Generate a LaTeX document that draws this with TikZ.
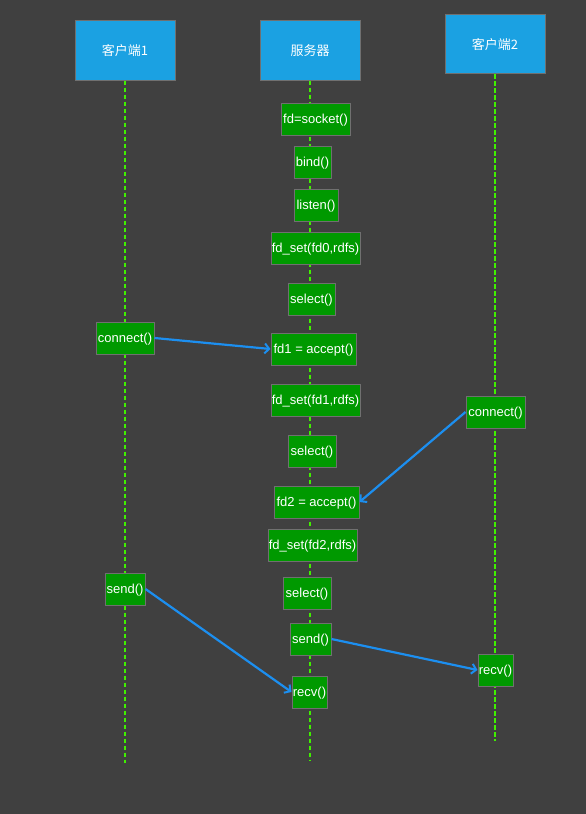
\documentclass[tikz,border=0pt]{standalone}
\usepackage{fontspec}
\setmainfont{Liberation Sans}
\newfontfamily\cjk{Noto Sans CJK SC}
\usetikzlibrary{arrows.meta}
\definecolor{bg}{HTML}{404040}
\definecolor{hdrblue}{HTML}{1BA1E2}
\definecolor{stepgreen}{HTML}{009900}
\definecolor{edgegray}{HTML}{707070}
\definecolor{lifegreen}{HTML}{40F000}
\definecolor{msgblue}{HTML}{1C8FF0}
\tikzset{
  hdr/.style={draw=edgegray, line width=1pt, fill=hdrblue, text=white,
    minimum width=100pt, minimum height=60pt, inner sep=0pt,
    text depth=0pt, font=\cjk\fontsize{13}{15}\selectfont},
  stepbox/.style={draw=edgegray, line width=1pt, fill=stepgreen, text=white,
    minimum height=32pt, inner sep=0pt, text depth=0pt,
    font=\fontsize{13}{15}\selectfont},
  lifeline/.style={draw=lifegreen, line width=2.6pt, dash pattern=on 4.5pt off 2.5pt},
  msg/.style={draw=msgblue, line width=2.2pt,
    -{Straight Barb[length=4.5pt,width=10pt,line width=2pt]}}
}
\begin{document}
\begin{tikzpicture}[x=1pt,y=-1pt]
\useasboundingbox[fill=bg] (0,0) rectangle (586,814);

% participants
\node[hdr] (c1) at (125,50) {客户端1};
\node[hdr] (srv) at (310,50) {服务器};
\node[hdr, minimum height=59pt] (c2) at (495,44) {客户端2};

% lifelines
\coordinate (c1end) at (125,763);
\coordinate (srvend) at (310,760);
\coordinate (c2end) at (495,741);
\draw[lifeline] (c1.south) -- (c1end);
\draw[lifeline] (srv.south) -- (srvend);
\draw[lifeline] (c2.south) -- (c2end);

% server calls
\node[stepbox, minimum width=69pt] (socket) at (315.5,119) {fd=socket()};
\node[stepbox, minimum width=37pt] (bind) at (312.5,162) {bind()};
\node[stepbox, minimum width=44pt] (listen) at (316,205) {listen()};
\node[stepbox, minimum width=89pt] (fdset0) at (315.5,248) {fd\_set(fd0,rdfs)};
\node[stepbox, minimum width=47pt] (sel1) at (311.5,299) {select()};
\node[stepbox, minimum width=85pt] (acc1) at (313.5,349) {fd1 = accept()};
\node[stepbox, minimum width=89pt] (fdset1) at (315.5,400) {fd\_set(fd1,rdfs)};
\node[stepbox, minimum width=48pt] (sel2) at (312,451) {select()};
\node[stepbox, minimum width=85pt] (acc2) at (316.5,502) {fd2 = accept()};
\node[stepbox, minimum width=89pt] (fdset2) at (312.5,545) {fd\_set(fd2,rdfs)};
\node[stepbox, minimum width=48pt] (sel3) at (307,593) {select()};
\node[stepbox, minimum width=41pt] (sendS) at (310.5,639) {send()};
\node[stepbox, minimum width=35pt] (recvS) at (309.5,692) {recv()};

% client 1 calls
\node[stepbox, minimum width=58pt] (conn1) at (125,338) {connect()};
\node[stepbox, minimum width=40pt] (send1) at (125,589) {send()};

% client 2 calls
\node[stepbox, minimum width=59pt] (conn2) at (495.5,412) {connect()};
\node[stepbox, minimum width=35pt] (recv2) at (495.5,670) {recv()};

% messages
\draw[msg] (conn1.east) -- (acc1.west);
\draw[msg] (conn2.west) -- (acc2.east);
\draw[msg] (send1.east) -- (recvS.west);
\draw[msg] (sendS.east) -- (recv2.west);
\end{tikzpicture}
\end{document}
